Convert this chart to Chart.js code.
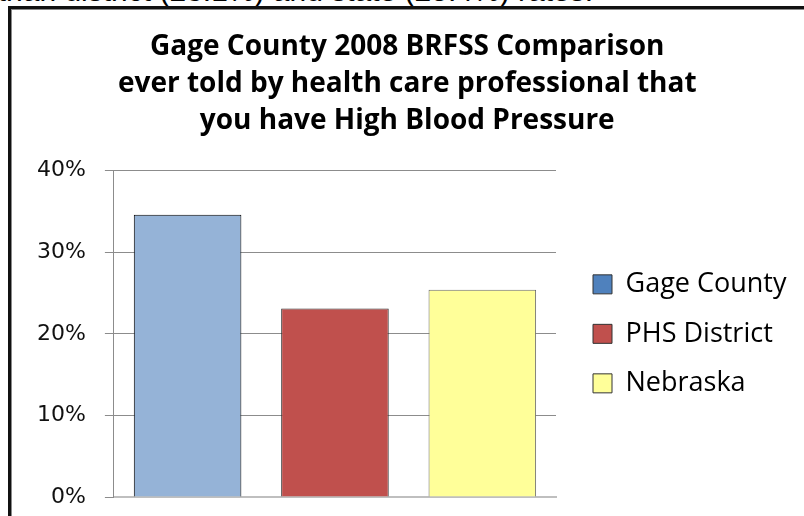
<!DOCTYPE html>
<html>
<head>
<meta charset="utf-8">
<title>Gage County 2008 BRFSS Comparison</title>
<script src="https://cdn.jsdelivr.net/npm/chart.js@4.4.0/dist/chart.umd.min.js"></script>
<style>
    html, body { margin: 0; padding: 0; background: #fff; width: 804px; height: 516px; overflow: hidden; }
    .lead {
        position: absolute; right: 211px; top: -24px;
        font: 30px/30px "Liberation Sans", Arial, sans-serif;
        white-space: nowrap; color: #000;
    }
    .frame {
        position: absolute; left: 8px; top: 6px; width: 900px; height: 600px;
        border-left: 3px solid #111; border-top: 3px solid #111;
        box-shadow: inset 1px 1px 0 #8a8a8a;
    }
    .chart-wrap { position: absolute; left: 12px; top: 10px; width: 792px; height: 540px; }
</style>
</head>
<body>
<div class="lead">than district (23.1%) and state (25.4%) rates.</div>
<div class="frame"></div>
<div class="chart-wrap"><canvas id="bpChart" width="792" height="540"></canvas></div>
<script>
/* ---- data ---- */
const categories = ['2008'];
const seriesNames = ['Gage County', 'PHS District', 'Nebraska'];
const gageValues = [34.6];
const phsValues = [23.1];
const nebraskaValues = [25.4];
const yTicks = [0, 10, 20, 30, 40];
const titleLines = [
    'Gage County 2008 BRFSS Comparison',
    'ever told by health care professional that',
    'you have High Blood Pressure'
];

/* ---- style ---- */
const barColors = ['#95B3D7', '#C0504D', '#FFFF99'];
const barBorders = ['#000000', '#2e2e2e', '#6a6a6a'];
const legendColors = ['#4F81BD', '#C0504D', '#FFFF99'];
const gridColor = '#8c8c8c';

const legendFontSize = 27;
const legendBox = 19;
const legendPad = 22.5;
const gapRight = 14.5;
const legendRoom = 792 - 544 - gapRight;

// measure the legend so the plot keeps its right edge
const mctx = document.createElement('canvas').getContext('2d');
mctx.font = legendFontSize + 'px "Open Sans"';
const longest = Math.max(...seriesNames.map(n => mctx.measureText(n).width));
const legendNeed = legendPad + legendBox + legendFontSize / 2 + longest + 10;
const padRight = Math.max(0, legendRoom - legendNeed);

const seriesData = [gageValues, phsValues, nebraskaValues];

new Chart(document.getElementById('bpChart'), {
    type: 'bar',
    data: {
        labels: categories,
        datasets: seriesNames.map((name, i) => ({
            label: name,
            data: seriesData[i],
            backgroundColor: barColors[i],
            borderColor: barBorders[i],
            borderWidth: 1,
            categoryPercentage: 1,
            barPercentage: 0.73
        }))
    },
    options: {
        responsive: false,
        animation: false,
        devicePixelRatio: 1,
        layout: { padding: { left: 6, right: padRight, top: 0, bottom: 53 } },
        plugins: {
            tooltip: { enabled: false },
            title: {
                display: true,
                text: titleLines,
                color: '#000',
                font: { family: '"Open Sans", sans-serif', size: 28, weight: 'bold', lineHeight: '37.3px' },
                padding: { top: 18, bottom: 30.8 }
            },
            legend: {
                position: 'right',
                fullSize: false,
                maxWidth: legendRoom,
                labels: {
                    color: '#000',
                    font: { family: '"Open Sans", sans-serif', size: legendFontSize },
                    boxWidth: legendBox,
                    boxHeight: legendBox,
                    padding: legendPad,
                    generateLabels: (chart) => chart.data.datasets.map((ds, i) => ({
                        text: ds.label,
                        fillStyle: legendColors[i],
                        strokeStyle: '#333',
                        lineWidth: 1,
                        datasetIndex: i,
                        hidden: false
                    }))
                }
            }
        },
        scales: {
            x: {
                grid: { display: false, drawTicks: false },
                ticks: { display: false },
                border: { display: true, color: '#bfbfbf', width: 2 }
            },
            y: {
                min: 0,
                max: 40,
                afterBuildTicks: (s) => { s.ticks = yTicks.map(v => ({ value: v })); },
                grid: { color: gridColor, tickColor: gridColor, tickLength: 9, lineWidth: 1 },
                border: { display: true, color: gridColor, width: 1 },
                ticks: {
                    padding: 19,
                    color: '#111',
                    font: { family: '"DejaVu Sans", sans-serif', size: 22 },
                    callback: (v) => v + '%'
                }
            },
            yGap: {
                position: 'right',
                display: true,
                grid: { display: false, drawTicks: false },
                border: { display: false },
                ticks: { display: false },
                afterFit: (s) => { s.width = gapRight; }
            }
        }
    }
});
</script>
</body>
</html>
